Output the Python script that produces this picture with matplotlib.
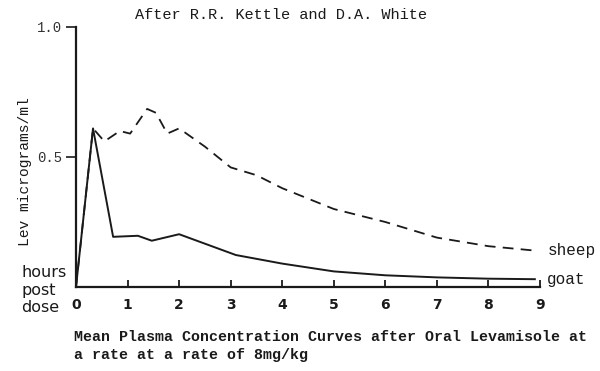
import matplotlib
matplotlib.use("Agg")
import matplotlib.pyplot as plt

# Data
sheep_hours = [0, 0.33, 0.55, 0.85, 1.05, 1.38, 1.55, 1.77, 2.0, 2.5, 3.0, 3.5, 4.0, 5.0, 6.0, 7.0, 8.0, 8.9]
sheep_conc = [0, 0.61, 0.56, 0.60, 0.59, 0.685, 0.67, 0.59, 0.61, 0.54, 0.46, 0.43, 0.38, 0.30, 0.25, 0.19, 0.157, 0.14]
goat_hours = [0, 0.33, 0.72, 1.2, 1.47, 2.0, 3.1, 4.0, 5.0, 6.0, 7.0, 8.0, 8.9]
goat_conc = [0, 0.61, 0.193, 0.197, 0.178, 0.203, 0.123, 0.09, 0.06, 0.045, 0.037, 0.032, 0.03]
x_ticks = [1, 2, 3, 4, 5, 6, 7, 8, 9]
x_ticklabels = ["0", "1", "2", "3", "4", "5", "6", "7", "8", "9"]
y_ticks = [0.5, 1.0]
y_ticklabels = ["0.5", "1.0"]

W, H = 600, 371
fig = plt.figure(figsize=(6, 3.71), dpi=100)
ax = fig.add_axes([76 / W, (H - 287) / H, (540 - 76) / W, 260 / H])
ax.set_xlim(0, 9)
ax.set_ylim(0, 1)

ax.plot(sheep_hours, sheep_conc, color="#1a1a1a", lw=1.3, linestyle=(0, (6, 4)))
ax.plot(goat_hours, goat_conc, color="#1a1a1a", lw=1.4)

for s in ["top", "right"]:
    ax.spines[s].set_visible(False)
for s in ["left", "bottom"]:
    ax.spines[s].set_linewidth(1.6)
    ax.spines[s].set_color("#1a1a1a")

mono = "Liberation Mono"
ax.set_xticks(x_ticks)
ax.set_xticklabels([])
ax.tick_params(axis="x", direction="in", length=5, width=1.3, color="#1a1a1a")
for i, lab in enumerate(x_ticklabels):
    ax.text(i, -0.07, lab, ha="center", va="center", fontsize=10, fontweight="bold",
            family="DejaVu Sans", color="#1a1a1a", clip_on=False)

ax.set_yticks(y_ticks)
ax.set_yticklabels(y_ticklabels, fontsize=10, family=mono, color="#333333")
ax.tick_params(axis="y", direction="out", length=7, width=1.2, color="#1a1a1a", pad=3)

ax.text(9.14, sheep_conc[-1], "sheep", ha="left", va="center", fontsize=11.5,
        family=mono, color="#1a1a1a", clip_on=False)
ax.text(9.14, goat_conc[-1], "goat", ha="left", va="center", fontsize=11.5,
        family=mono, color="#1a1a1a", clip_on=False)

fig.text(281 / W, 1 - 15 / H, "After R.R. Kettle and D.A. White", ha="center", va="center",
         fontsize=11, family=mono, color="#1a1a1a")
fig.text(25 / W, 1 - 172 / H, "Lev micrograms/ml", rotation=90, ha="center", va="center",
         fontsize=10.5, family=mono, color="#1a1a1a")
fig.text(21 / W, 1 - 290 / H, "hours\npost\ndose", ha="left", va="center", fontsize=11.5,
         family="DejaVu Sans", color="#1a1a1a", linespacing=1.2)
fig.text(74 / W, 1 - 337 / H, "Mean Plasma Concentration Curves after Oral Levamisole at",
         ha="left", va="center", fontsize=10.8, family=mono, fontweight="bold", color="#1a1a1a")
fig.text(74 / W, 1 - 355 / H, "a rate at a rate of 8mg/kg",
         ha="left", va="center", fontsize=10.8, family=mono, fontweight="bold", color="#1a1a1a")

fig.savefig("out.png", dpi=100)
